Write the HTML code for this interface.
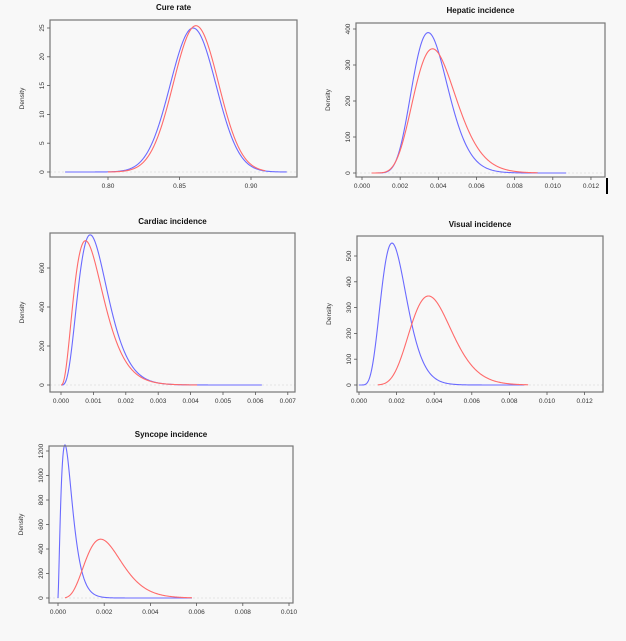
<!DOCTYPE html>
<html><head><meta charset="utf-8"><style>
html,body{margin:0;padding:0;background:#f8f8f8;}
svg{display:block;font-family:"Liberation Sans",sans-serif;}
</style></head><body>
<svg id="s" width="626" height="641" viewBox="0 0 626 641" xmlns="http://www.w3.org/2000/svg">
<rect width="626" height="641" fill="#f8f8f8"/>
<rect x="606" y="178" width="2" height="16" fill="#000"/>
</svg>
<script>
const S=document.getElementById('s');const NS='http://www.w3.org/2000/svg';
function el(t,a,txt){const e=document.createElementNS(NS,t);for(const k in a)e.setAttribute(k,a[k]);if(txt!==undefined)e.textContent=txt;S.appendChild(e);return e;}
function gam(k,th,peak){const m=(k-1)*th;return x=>x<=0?0:peak*Math.pow(x/m,k-1)*Math.exp(-(x-m)/th);}
function norm(mu,sd,peak){return x=>peak*Math.exp(-0.5*((x-mu)/sd)**2);}
function panel(p){
 const {box,title,ty,x0,x0px,xs,xt,xfmt,y0px,ys,yt,ylab,series}=p;
 const X=v=>x0px+(v-x0)*xs, Y=v=>y0px-v*ys;
 el('text',{x:(box[0]+box[2])/2,y:ty,'text-anchor':'middle','font-size':'8','font-weight':'bold',fill:'#111'},title);
 el('line',{x1:box[0],x2:box[2],y1:y0px,y2:y0px,stroke:'#ddd','stroke-width':0.8,'stroke-dasharray':'2,2'});
 for(const s of series){let d='';const n=300;for(let i=0;i<=n;i++){const x=s.a+(s.b-s.a)*i/n;d+=(i?'L':'M')+X(x).toFixed(2)+','+Y(s.f(x)).toFixed(2);}
  el('path',{d,fill:'none',stroke:s.c,'stroke-width':1.1});}
 el('rect',{x:box[0],y:box[1],width:box[2]-box[0],height:box[3]-box[1],fill:'none',stroke:'#777','stroke-width':1.2});
 for(const v of xt){const x=X(v);el('line',{x1:x,x2:x,y1:box[3],y2:box[3]+3,stroke:'#555','stroke-width':0.8});
  el('text',{x:x,y:box[3]+11,'text-anchor':'middle','font-size':'6.5',fill:'#333'},v.toFixed(xfmt));}
 for(const v of yt){const y=Y(v);el('line',{x1:box[0],x2:box[0]-3,y1:y,y2:y,stroke:'#555','stroke-width':0.8});
  el('text',{x:0,y:0,'text-anchor':'middle','font-size':'6.5',fill:'#333',transform:`translate(${box[0]-6},${y}) rotate(-90)`},String(v));}
 el('text',{x:0,y:0,'text-anchor':'middle','font-size':'6.5',fill:'#333',transform:`translate(${box[0]-26},${(box[1]+box[3])/2}) rotate(-90)`},'Density');
}
const R='#ff6a6a',B='#6a6aff';
panel({box:[50,20,297,177],title:'Cure rate',ty:10,x0:0.80,x0px:108,xs:1430,xt:[0.80,0.85,0.90],xfmt:2,y0px:172,ys:5.76,yt:[0,5,10,15,20,25],
 series:[{f:norm(0.8595,0.0160,25),a:0.77,b:0.925,c:B},{f:norm(0.8615,0.0158,25.4),a:0.80,b:0.91,c:R}]});
panel({box:[356,23,605,177],title:'Hepatic incidence',ty:13,x0:0,x0px:362,xs:19080,xt:[0,0.002,0.004,0.006,0.008,0.010,0.012],xfmt:3,y0px:173,ys:0.36,yt:[0,100,200,300,400],
 series:[{f:gam(14.5,0.000257,390),a:0.0005,b:0.0107,c:B},{f:gam(12,0.000336,345),a:0.0005,b:0.0092,c:R}]});
panel({box:[50,233,295,392],title:'Cardiac incidence',ty:224,x0:0,x0px:61,xs:32400,xt:[0,0.001,0.002,0.003,0.004,0.005,0.006,0.007],xfmt:3,y0px:385,ys:0.195,yt:[0,200,400,600],
 series:[{f:gam(4.8,0.000237,770),a:0,b:0.0062,c:B},{f:gam(3.7,0.00028,740),a:0,b:0.0042,c:R}]});
panel({box:[357,236,603,392],title:'Visual incidence',ty:227,x0:0,x0px:359,xs:18800,xt:[0,0.002,0.004,0.006,0.008,0.010,0.012],xfmt:3,y0px:385,ys:0.258,yt:[0,100,200,300,400,500],
 series:[{f:gam(7.5,0.00027,550),a:0,b:0.0088,c:B},{f:gam(12,0.000336,345),a:0.001,b:0.009,c:R}]});
panel({box:[49,446,293,603],title:'Syncope incidence',ty:437,x0:0,x0px:58,xs:23100,xt:[0,0.002,0.004,0.006,0.008,0.010],xfmt:3,y0px:598,ys:0.1225,yt:[0,200,400,600,800,1000,1200],
 series:[{f:gam(2.45,0.000207,1250),a:0,b:0.0058,c:B},{f:gam(6.5,0.000336,480),a:0.0003,b:0.0058,c:R}]});
</script>
</body></html>
